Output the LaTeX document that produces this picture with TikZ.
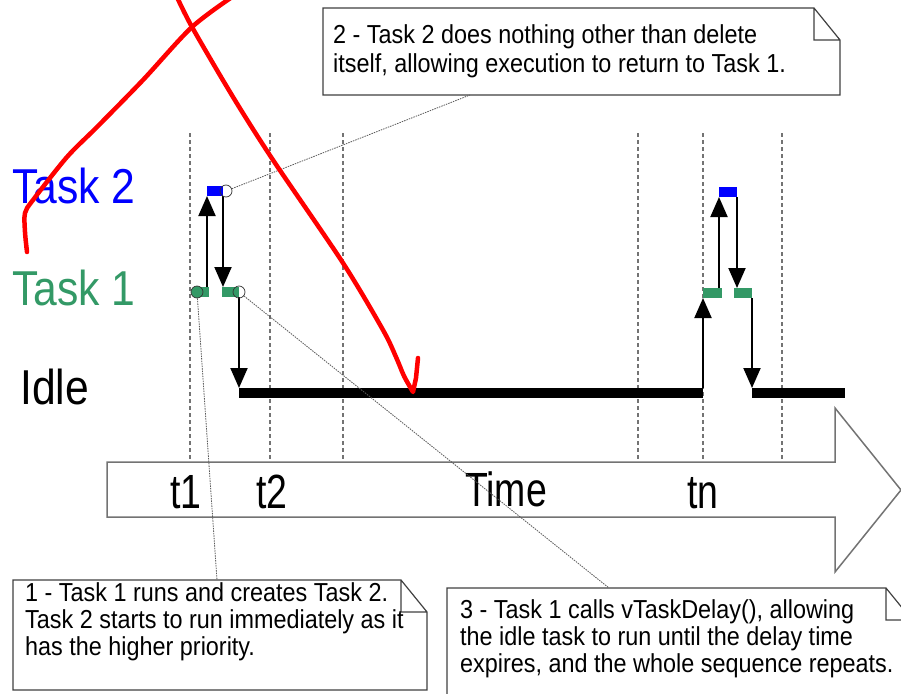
\documentclass[tikz,border=0pt]{standalone}
\usepackage{fontspec}
\usepackage{tikz}
\usepackage{xcolor}
\usetikzlibrary{arrows.meta}
\setmainfont{Liberation Sans}
\newfontfamily\notefont{Liberation Sans}[FakeStretch=0.9]
\newfontfamily\labelfont{Liberation Sans}[FakeStretch=0.87]
\newfontfamily\timefont{Liberation Sans}[FakeStretch=0.78]
\definecolor{taskblue}{RGB}{0,0,255}
\definecolor{taskgreen}{RGB}{51,153,102}
\begin{document}
\begin{tikzpicture}[x=1pt, y=-1pt,
  taskbar/.style={fill, inner sep=0pt, outer sep=0pt, minimum height=10pt, anchor=north west},
  arr/.style={-{Triangle[length=20pt,width=17pt]}, line width=2pt},
  gridline/.style={black!55, line width=1.5pt, dash pattern=on 4pt off 3pt},
  noteend/.style={circle, draw=black!80, line width=0.7pt, minimum size=12pt, inner sep=0pt},
  leader/.style={black!65, line width=0.8pt, dash pattern=on 1.5pt off 1pt},
  notebox/.style={inner sep=0pt, outer sep=0pt, anchor=north west},
  notetext/.style={font=\notefont\fontsize{26}{27}\selectfont, inner sep=0pt, anchor=north west, align=left},
  tasklabel/.style={font=\labelfont\fontsize{49}{49}\selectfont, inner sep=0pt, anchor=base west},
  timelabel/.style={font=\timefont\fontsize{48}{48}\selectfont, inner sep=0pt, anchor=base},
  scribble/.style={red, line width=4.5pt, line cap=round, line join=round}]
\useasboundingbox (0,0) rectangle (901,693);
\foreach \x in {190,270,343,638,703,782} \draw[gridline] (\x,133) -- (\x,462);
\draw[black!55, line width=1.5pt, fill=white] (107,462) -- (835,462) -- (835,408) -- (901,490) -- (835,572) -- (835,517) -- (107,517) -- cycle;
\node[timelabel] (t1) at (186,508) {t1};
\node[timelabel] (t2) at (272,508) {t2};
\node[timelabel] (time) at (506,506) {Time};
\node[timelabel] (tn) at (703,508) {tn};
\node[tasklabel, taskblue] (task2) at (12,203) {Task 2};
\node[tasklabel, taskgreen] (task1) at (12,305) {Task 1};
\node[tasklabel] (idle) at (20,404) {Idle};
\node[taskbar, taskgreen, minimum width=14pt] (g1) at (195,287) {};
\node[taskbar, taskblue, minimum width=16pt] (b1) at (207,186) {};
\node[taskbar, taskgreen, minimum width=17pt] (g2) at (222,287) {};
\node[taskbar, minimum width=464pt] (idle1) at (239,388) {};
\node[taskbar, taskgreen, minimum width=19pt] (g3) at (703,288) {};
\node[taskbar, taskblue, minimum width=18pt] (b2) at (719,187) {};
\node[taskbar, taskgreen, minimum width=18pt] (g4) at (734,288) {};
\node[taskbar, minimum width=93pt] (idle2) at (752,388) {};
\draw[arr] (b1.south west |- g1.north) -- (b1.south west);
\draw[arr] (b1.south east) -- (b1.south east |- g2.north);
\draw[arr] (g2.south east) -- (idle1.north west);
\draw[arr] (idle1.north east) -- (g3.south west);
\draw[arr] (b2.south west |- g3.north) -- (b2.south west);
\draw[arr] (b2.south east) -- (b2.south east |- g4.north);
\draw[arr] (g4.south east) -- (idle2.north west);
\node[noteend, fill=taskgreen] (m1) at (197,292) {};
\node[noteend] (m2) at (226,191) {};
\node[noteend] (m3) at (239,292) {};
\node[notebox, minimum width=414pt, minimum height=110pt] (n1) at (13,580) {};
\node[notebox, minimum width=517pt, minimum height=87pt] (n2) at (323,8) {};
\node[notebox, minimum width=465pt, minimum height=112pt] (n3) at (447,588) {};
\foreach \n in {n1,n2,n3}
  \draw[black!75, line width=1.2pt, fill=white] (\n.north west) -- ([xshift=-26pt]\n.north east) -- ([yshift=-32pt]\n.north east) -- (\n.south east) -- (\n.south west) -- cycle ([xshift=-26pt]\n.north east) |- ([yshift=-32pt]\n.north east);
\node[notetext] (n1text) at (25,582) {1 - Task 1 runs and creates Task 2.\\Task 2 starts to run immediately as it\\has the higher priority.};
\node[notetext, font=\notefont\fontsize{26}{29}\selectfont] (n2text) at (333,24) {2 - Task 2 does nothing other than delete\\itself, allowing execution to return to Task 1.};
\node[notetext] (n3text) at (460,599) {3 - Task 1 calls vTaskDelay(), allowing\\the idle task to run until the delay time\\expires, and the whole sequence repeats.};
\draw[leader] (m1) -- ([xshift=204pt]n1.north west);
\draw[leader] (m2) -- ([xshift=147pt]n2.south west);
\draw[leader] (m3) -- ([xshift=162pt]n3.north west);
\draw[scribble] plot[smooth] coordinates {(27,252) (25,232) (25,213) (33,200) (67,157) (97,127) (143,80) (192,27) (235,-5)};
\draw[scribble] plot[smooth] coordinates {(176,-5) (192,27) (233,97) (273,160) (343,263) (383,330) (396,357) (404,376) (413,392)} -- (416,378) -- (418,358);
\end{tikzpicture}
\end{document}
